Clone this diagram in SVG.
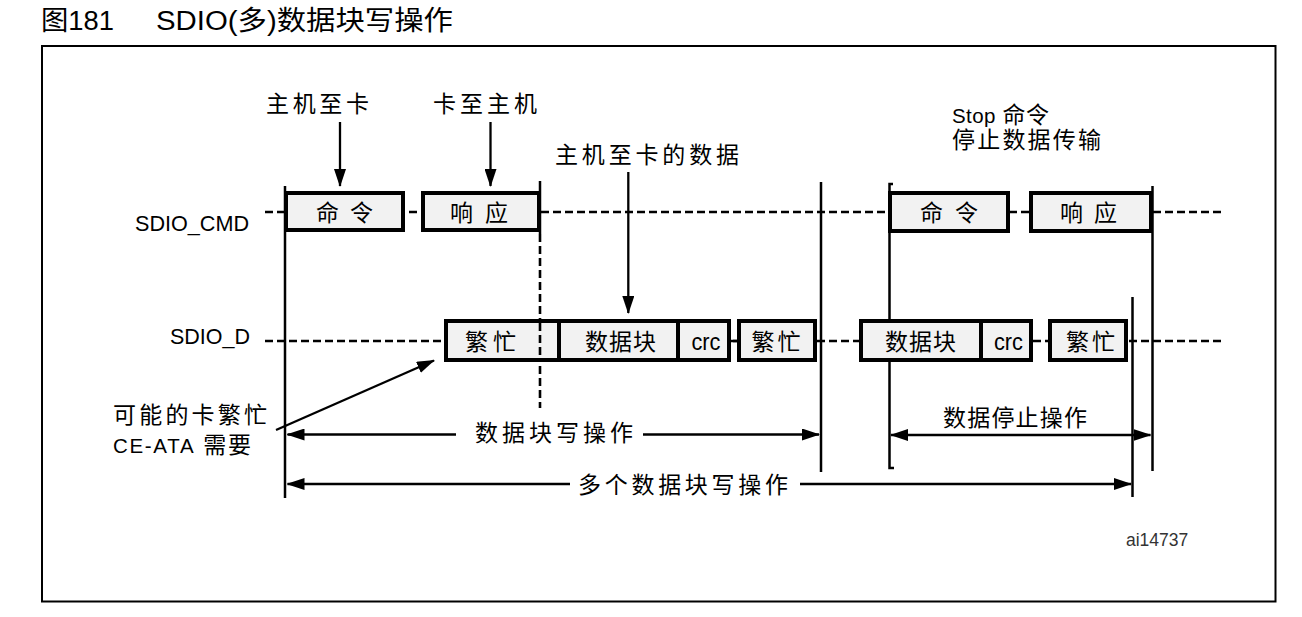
<svg xmlns="http://www.w3.org/2000/svg" width="1302" height="617" viewBox="0 0 1302 617">
<style>
text{font-family:'Liberation Sans','Noto Sans CJK SC',sans-serif;fill:#000}
.t{font-size:23px}
.ti{font-size:27px}
.lbl{font-size:21.5px}
.box{fill:#f2f2f2;stroke:#000;stroke-width:4}
.div{stroke:#000;stroke-width:4}
.dash{stroke:#000;stroke-width:2.6;stroke-dasharray:8,4;fill:none}
.v{stroke:#000;stroke-width:2.5;fill:none}
.arr{stroke:#000;stroke-width:2.3;fill:none}
</style>
<defs>
<marker id="ah" viewBox="0 0 18 12" refX="17" refY="6" markerWidth="18" markerHeight="12" markerUnits="userSpaceOnUse" orient="auto-start-reverse"><path d="M0,0 L18,6 L0,12 z" fill="#000"/></marker>
</defs>
<rect width="1302" height="617" fill="#fff"/>
<g id="title">
<text class="ti" x="41" y="30" textLength="73" lengthAdjust="spacingAndGlyphs">图181</text>
<text class="ti" x="156" y="30" textLength="297" lengthAdjust="spacingAndGlyphs">SDIO(多)数据块写操作</text>
</g>
<rect id="frame" x="42" y="46" width="1233.5" height="555.5" fill="none" stroke="#000" stroke-width="2"/>
<g id="connectors">
<line class="dash" x1="265" y1="212" x2="1222" y2="212"/>
<line class="dash" x1="265" y1="341" x2="1222" y2="341"/>
<line class="v" x1="285" y1="186" x2="285" y2="498"/>
<line class="v" x1="540" y1="181" x2="540" y2="234"/>
<line class="dash" x1="540" y1="234" x2="540" y2="408" stroke-dasharray="8,5"/>
<line class="v" x1="821" y1="182" x2="821" y2="472"/>
<polyline class="v" points="893,184 889.5,184 889.5,468 894,468"/>
<line class="v" x1="1152.5" y1="186" x2="1152.5" y2="471"/>
<line class="v" x1="1132.5" y1="297" x2="1132.5" y2="497"/>
<line class="arr" x1="340" y1="122" x2="340" y2="186" marker-end="url(#ah)"/>
<line class="arr" x1="490.5" y1="122" x2="490.5" y2="186" marker-end="url(#ah)"/>
<line class="arr" x1="628.3" y1="172" x2="628.3" y2="313" marker-end="url(#ah)"/>
<line class="arr" x1="276" y1="430" x2="434" y2="360.5" stroke-width="1.8" marker-end="url(#ah)"/>
<line class="arr" x1="456" y1="434.5" x2="287.5" y2="434.5" marker-end="url(#ah)"/>
<line class="arr" x1="643" y1="434.5" x2="819" y2="434.5" marker-end="url(#ah)"/>
<line class="arr" x1="570" y1="484" x2="287.5" y2="484" marker-end="url(#ah)"/>
<line class="arr" x1="800" y1="484" x2="1131" y2="484" marker-end="url(#ah)"/>
<line class="arr" x1="891" y1="435" x2="1150.5" y2="435" marker-start="url(#ah)" marker-end="url(#ah)"/>
</g>
<g id="labels">
<text class="t" x="266" y="112" textLength="103" lengthAdjust="spacing">主机至卡</text>
<text class="t" x="433" y="112" textLength="104" lengthAdjust="spacing">卡至主机</text>
<text class="t" x="555" y="163" textLength="184" lengthAdjust="spacing">主机至卡的数据</text>
<text class="t" x="952" y="123" textLength="97" lengthAdjust="spacing"><tspan font-size="20.5">Stop</tspan> 命令</text>
<text class="t" x="952" y="148" textLength="149" lengthAdjust="spacing">停止数据传输</text>
<text class="lbl" x="135" y="231" textLength="114" lengthAdjust="spacingAndGlyphs">SDIO_CMD</text>
<text class="lbl" x="170" y="344" textLength="80" lengthAdjust="spacingAndGlyphs">SDIO_D</text>
<text class="t" x="113" y="423" textLength="154" lengthAdjust="spacing">可能的卡繁忙</text>
<text class="t" x="113" y="453" textLength="138" lengthAdjust="spacing"><tspan font-size="20.5">CE-ATA</tspan> 需要</text>
<text class="t" x="475" y="441" textLength="158" lengthAdjust="spacing">数据块写操作</text>
<text class="t" x="578" y="493" textLength="210" lengthAdjust="spacing">多个数据块写操作</text>
<text class="t" x="943" y="426" textLength="144" lengthAdjust="spacing">数据停止操作</text>
<text x="1126" y="546" font-size="17.5" style="fill:#333">ai14737</text>
</g>
<g id="cmd1">
<rect class="box" x="286" y="193" width="117" height="37"/>
<text class="t" x="316" y="221" textLength="57" lengthAdjust="spacing">命 令</text>
</g>
<g id="resp1">
<rect class="box" x="423" y="193" width="116" height="37"/>
<text class="t" x="450" y="221" textLength="58" lengthAdjust="spacing">响 应</text>
</g>
<g id="cmd2">
<rect class="box" x="890" y="193" width="118" height="38"/>
<text class="t" x="920" y="221" textLength="58" lengthAdjust="spacing">命 令</text>
</g>
<g id="resp2">
<rect class="box" x="1031" y="193" width="120" height="38"/>
<text class="t" x="1060" y="221" textLength="57" lengthAdjust="spacing">响 应</text>
</g>
<g id="block1">
<rect class="box" x="446" y="321" width="283" height="39"/>
<line class="div" x1="559" y1="321" x2="559" y2="360"/>
<line class="div" x1="678" y1="321" x2="678" y2="360"/>
<line class="dash" x1="540" y1="323" x2="540" y2="358" stroke-dasharray="8,5"/>
<text class="t" x="465" y="350" textLength="51" lengthAdjust="spacing">繁忙</text>
<text class="t" x="585" y="350" textLength="71" lengthAdjust="spacing">数据块</text>
<text x="691.5" y="350" font-size="23" textLength="29" lengthAdjust="spacingAndGlyphs">crc</text>
</g>
<g id="busy2">
<line class="v" x1="729" y1="341" x2="739" y2="341"/>
<rect class="box" x="739" y="321" width="76" height="39"/>
<text class="t" x="751.5" y="350" textLength="49" lengthAdjust="spacing">繁忙</text>
</g>
<g id="block2">
<rect class="box" x="861" y="321" width="170" height="39"/>
<line class="div" x1="981" y1="321" x2="981" y2="360"/>
<text class="t" x="885" y="350" textLength="71" lengthAdjust="spacing">数据块</text>
<text x="994" y="350" font-size="23" textLength="29" lengthAdjust="spacingAndGlyphs">crc</text>
</g>
<g id="busy3">
<rect class="box" x="1050" y="321" width="76" height="39"/>
<text class="t" x="1066" y="350" textLength="49" lengthAdjust="spacing">繁忙</text>
</g>
</svg>
